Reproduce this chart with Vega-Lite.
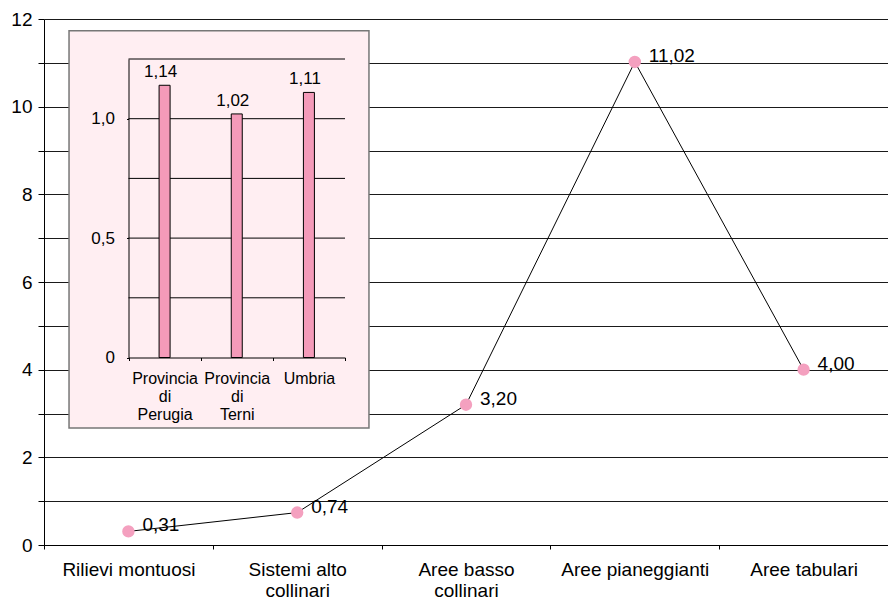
{
  "$schema": "https://vega.github.io/schema/vega-lite/v6.json",
  "width": 844,
  "height": 526,
  "autosize": {"type": "none"},
  "padding": {"left": 44, "top": 19, "right": 0, "bottom": 54},
  "background": "#ffffff",
  "config": {
    "font": "Liberation Sans",
    "view": {"stroke": null},
    "locale": {"number": {"decimal": ",", "thousands": ".", "grouping": [3], "currency": ["", " €"]}}
  },
  "datasets": {
    "zone": [
      {"zona": "Rilievi montuosi", "valore": 0.31},
      {"zona": "Sistemi alto collinari", "valore": 0.74},
      {"zona": "Aree basso collinari", "valore": 3.20},
      {"zona": "Aree pianeggianti", "valore": 11.02},
      {"zona": "Aree tabulari", "valore": 4.00}
    ],
    "province": [
      {"area": "Provincia di Perugia", "valore": 1.14},
      {"area": "Provincia di Terni", "valore": 1.02},
      {"area": "Umbria", "valore": 1.11}
    ],
    "griglia": [
      {"g": 0.25}, {"g": 0.5}, {"g": 0.75}, {"g": 1.0}, {"g": 1.25}
    ]
  },
  "layer": [
    {
      "data": {"name": "zone"},
      "encoding": {
        "x": {
          "field": "zona", "type": "nominal", "sort": null,
          "scale": {"type": "band", "paddingInner": 0, "paddingOuter": 0},
          "axis": {
            "title": null, "labelAngle": 0, "labelFontSize": 19, "labelColor": "#000",
            "labelLimit": 0, "labelPadding": 11, "labelLineHeight": 21, "labelOverlap": false,
            "tickBand": "extent", "tickSize": 4, "tickColor": "#000", "domainColor": "#000", "grid": false,
            "labelExpr": "datum.label == 'Sistemi alto collinari' ? ['Sistemi alto', 'collinari'] : datum.label == 'Aree basso collinari' ? ['Aree basso', 'collinari'] : datum.label"
          }
        },
        "y": {
          "field": "valore", "type": "quantitative",
          "scale": {"domain": [0, 12], "nice": false},
          "axis": {
            "title": null, "values": [0,1,2,3,4,5,6,7,8,9,10,11,12], "format": "d",
            "labelExpr": "datum.value % 2 == 0 ? datum.label : ''",
            "labelFontSize": 19, "labelColor": "#000", "labelPadding": 6,
            "tickSize": 6, "tickColor": "#000", "domainColor": "#000",
            "grid": true, "gridColor": "#1a1a1a", "gridOpacity": 1, "gridWidth": 1
          }
        }
      },
      "layer": [
        {"mark": {"type": "line", "color": "#000", "strokeWidth": 1}},
        {"mark": {"type": "circle", "size": 154, "color": "#F4A0BF", "opacity": 1}},
        {
          "mark": {"type": "text", "align": "left", "baseline": "middle", "dx": 14, "dy": -6, "fontSize": 19, "color": "#000"},
          "encoding": {"text": {"field": "valore", "type": "quantitative", "format": ".2f"}}
        }
      ]
    },
    {
      "layer": [
        {
          "layer": [
            {
              "data": {"values": [{}]},
              "mark": {"type": "rect", "fill": "#FFEEF2", "stroke": "#777", "strokeWidth": 1.5},
              "encoding": {
                "x": {"datum": -0.824, "type": "quantitative", "scale": {"domain": [0, 3], "range": [84.5, 301], "nice": false, "zero": false}, "axis": null},
                "x2": {"datum": 3.332},
                "y": {"datum": 1.3685, "type": "quantitative", "scale": {"domain": [0, 1.25], "range": [338.5, 40], "nice": false}, "axis": null},
                "y2": {"datum": -0.295}
              }
            },
            {
              "data": {"name": "griglia"},
              "mark": {"type": "rule", "color": "#000", "strokeWidth": 1},
              "encoding": {
                "x": {"datum": 0, "type": "quantitative", "scale": {"domain": [0, 3], "range": [84.5, 301], "nice": false, "zero": false}, "axis": null},
                "x2": {"datum": 3},
                "y": {"field": "g", "type": "quantitative", "scale": {"domain": [0, 1.25], "range": [338.5, 40], "nice": false}, "axis": null}
              }
            }
          ]
        },
        {
          "data": {"name": "province"},
          "encoding": {
            "x": {
              "field": "area", "type": "nominal", "sort": null,
              "scale": {"type": "band", "range": [84.5, 301], "paddingInner": 0, "paddingOuter": 0},
              "axis": {
                "orient": "bottom", "offset": -187.5, "zindex": 1, "title": null, "labelAngle": 0,
                "labelFontSize": 16, "labelColor": "#000", "labelLineHeight": 18, "labelPadding": 10,
                "labelLimit": 0, "labelOverlap": false,
                "tickBand": "extent", "tickSize": 3, "tickColor": "#000", "domainColor": "#000", "grid": false,
                "labelExpr": "datum.label ? split(datum.label, ' ') : ''"
              }
            },
            "y": {
              "field": "valore", "type": "quantitative",
              "scale": {"domain": [0, 1.25], "range": [338.5, 40], "nice": false},
              "axis": {
                "orient": "left", "offset": -84.5, "zindex": 1, "title": null,
                "values": [0, 0.5, 1], "format": ".1f",
                "labelExpr": "datum.value == 0 ? '0' : datum.label",
                "labelFontSize": 17, "labelColor": "#000", "labelPadding": 12,
                "tickSize": 2, "tickColor": "#000", "domainColor": "#000", "grid": false
              }
            }
          },
          "layer": [
            {"mark": {"type": "bar", "width": 11, "fill": "#F49AB9", "stroke": "#000", "strokeWidth": 1}},
            {
              "mark": {"type": "text", "baseline": "alphabetic", "dx": -4, "dy": -8, "fontSize": 17, "color": "#000"},
              "encoding": {"text": {"field": "valore", "type": "quantitative", "format": ".2f"}}
            }
          ]
        }
      ],
      "resolve": {"scale": {"x": "independent", "y": "independent"}, "axis": {"x": "independent", "y": "independent"}}
    }
  ],
  "resolve": {"scale": {"x": "independent", "y": "independent"}, "axis": {"x": "independent", "y": "independent"}}
}
